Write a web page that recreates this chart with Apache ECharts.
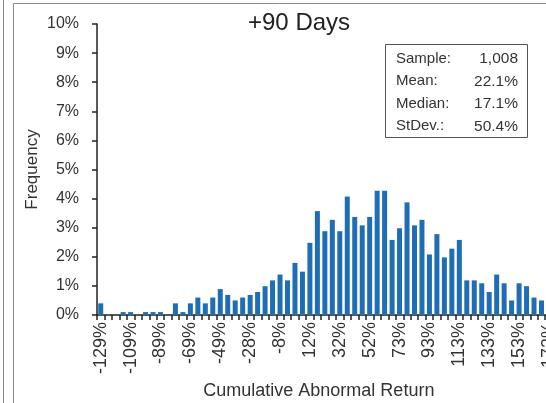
<!DOCTYPE html>
<html>
<head>
<meta charset="utf-8">
<script src="https://cdn.jsdelivr.net/npm/echarts@6/dist/echarts.min.js"></script>
<style>
html,body{margin:0;padding:0;background:#fff;}
#c{width:546px;height:403px;}
</style>
</head>
<body>
<div id="c"></div>
<script>
// Bin labels (cumulative abnormal return, %)
const binLabels = [-129,-124,-119,-114,-109,-104,-99,-94,-89,-84,-79,-74,-69,-64,-59,-54,-49,-43,-38,-33,-28,-23,-18,-13,-8,-3,2,7,12,17,22,27,32,37,42,47,52,57,62,68,73,78,83,88,93,98,103,108,113,118,123,128,133,138,143,148,153,158,163,168,173];
// Frequency per bin (%)
const frequency = [0.40,0,0,0.10,0.10,0,0.10,0.10,0.10,0,0.40,0.10,0.40,0.60,0.40,0.60,0.89,0.69,0.50,0.60,0.69,0.79,0.99,1.19,1.39,1.19,1.79,1.49,2.48,3.57,2.88,3.27,2.88,4.07,3.37,3.08,3.37,4.27,4.27,2.58,2.98,3.87,3.08,3.27,2.08,2.78,1.98,2.28,2.58,1.19,1.19,1.09,0.79,1.39,1.09,0.50,1.09,0.99,0.60,0.50,0.40];
// Y axis ticks (%)
const yTicks = {min:0, max:10, interval:1};
// Summary statistics box
const statLabels = ['Sample:','Mean:','Median:','StDev.:'];
const statValues = ['1,008','22.1%','17.1%','50.4%'];
const chartTitle = '+90 Days';

const FONT = '"Liberation Sans", Arial, Helvetica, sans-serif';
const chart = echarts.init(document.getElementById('c'), null, {renderer:'canvas'});

const graphics = [
  {type:'line', shape:{x1:3.5,y1:0,x2:3.5,y2:403}, style:{stroke:'#8a8a8a',lineWidth:1}, silent:true},
  {type:'line', shape:{x1:13.5,y1:3.5,x2:13.5,y2:403}, style:{stroke:'#8a8a8a',lineWidth:1}, silent:true},
  {type:'line', shape:{x1:13.5,y1:3.5,x2:546,y2:3.5}, style:{stroke:'#8a8a8a',lineWidth:1}, silent:true},
  {type:'rect', shape:{x:385.5,y:44.5,width:142,height:93}, style:{fill:'#fff',stroke:'#555',lineWidth:1}, silent:true}
];
statLabels.forEach((s,i)=>{
  graphics.push({type:'text', left:396, top:51+i*22.5, style:{text:s, font:'15px '+FONT, fill:'#333'}, silent:true});
  graphics.push({type:'text', right:546-518, top:51+i*22.5, style:{text:statValues[i], font:'15.5px '+FONT, fill:'#333', textAlign:'right'}, silent:true});
});

chart.setOption({
  animation:false,
  backgroundColor:'#fff',
  title:{text:chartTitle, left:248, top:11, padding:0,
    textStyle:{fontFamily:FONT, fontSize:24, fontWeight:'normal', color:'#222'}},
  grid:{left:97, top:24, bottom:88, width:455.7, containLabel:false, outerBoundsMode:'none'},
  xAxis:{
    type:'category', data:binLabels, boundaryGap:true,
    name:'Cumulative Abnormal Return', nameLocation:'middle', nameGap:66,
    nameTextStyle:{fontFamily:FONT, fontSize:18, color:'#333', padding:[0,12,0,0]},
    axisLine:{show:true, lineStyle:{color:'#222', width:1.5}},
    axisTick:{show:true, interval:0, length:5, lineStyle:{color:'#222', width:1.5}},
    axisLabel:{interval:3, rotate:90, margin:7, fontFamily:FONT, fontSize:18, color:'#333',
      formatter:v=>v+'%'},
    splitLine:{show:false}
  },
  yAxis:{
    type:'value', min:yTicks.min, max:yTicks.max, interval:yTicks.interval,
    name:'Frequency', nameLocation:'middle', nameGap:56, nameRotate:90, nameMoveOverlap:false,
    nameTextStyle:{fontFamily:FONT, fontSize:17, color:'#333'},
    axisLine:{show:true, lineStyle:{color:'#222', width:1.5}},
    axisTick:{show:true, length:5, lineStyle:{color:'#222', width:1.5}},
    axisLabel:{margin:18, fontFamily:FONT, fontSize:16, color:'#333', formatter:'{value}%'},
    splitLine:{show:false}
  },
  series:[{
    type:'bar', data:frequency, barWidth:5,
    itemStyle:{color:'#1f6db4'}
  }],
  graphic:graphics
});
</script>
</body>
</html>
